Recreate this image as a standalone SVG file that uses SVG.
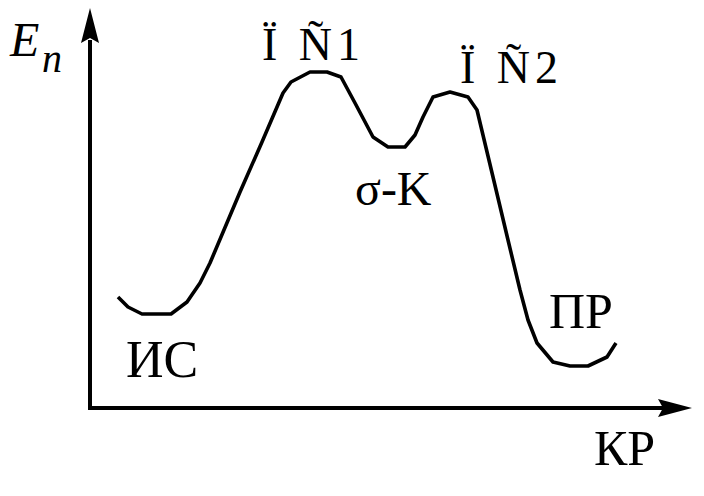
<svg xmlns="http://www.w3.org/2000/svg" width="704" height="496" viewBox="0 0 704 496">
<style>
text{font-family:"Liberation Serif","Times New Roman",serif;fill:#000}
.it{font-style:italic}
.ax{stroke:#000;stroke-width:4;fill:none}
.cv{stroke:#000;stroke-width:3.6;fill:none;stroke-linejoin:round}
</style>
<rect width="704" height="496" fill="#fff"/>
<g id="connectors">
<path class="ax" d="M90,40 L90,408 L665,408"/>
<path d="M90,8 L99,43 L90,38 L81,43 Z" fill="#000"/>
<path d="M692,408 L658,399 L663,408 L658,417 Z" fill="#000"/>
<path class="cv" d="M118,297 L128,307 L142,314 L171,314 L187,302 L200,283 L210,263 L240,192 L262,142 L283,93 L291,82 L310,72 L327,72 L341,77 L355,103 L373,137 L388,147 L405,147 L415,135 L423,117 L433,97 L450,92 L468,97 L477,110 L493,177 L508,240 L520,290 L528,320 L537,343 L553,362 L570,366 L588,366 L607,357 L616,343"/>
</g>
<g id="axis-y-label"><text class="it" x="10" y="56" font-size="48">E</text><text class="it" x="42" y="72" font-size="40">n</text></g>
<g id="ts1"><text x="262" y="60" font-size="46" textLength="98" lengthAdjust="spacing">Ï Ñ1</text></g>
<g id="ts2"><text x="460" y="83" font-size="46" textLength="98" lengthAdjust="spacing">Ï Ñ2</text></g>
<g id="sigma"><text x="355" y="205" font-size="48">σ-K</text></g>
<g id="is"><text x="126" y="377" font-size="52">ИС</text></g>
<g id="pr"><text x="549" y="328" font-size="50">ПР</text></g>
<g id="kr"><text x="594" y="465" font-size="50">КР</text></g>
</svg>
